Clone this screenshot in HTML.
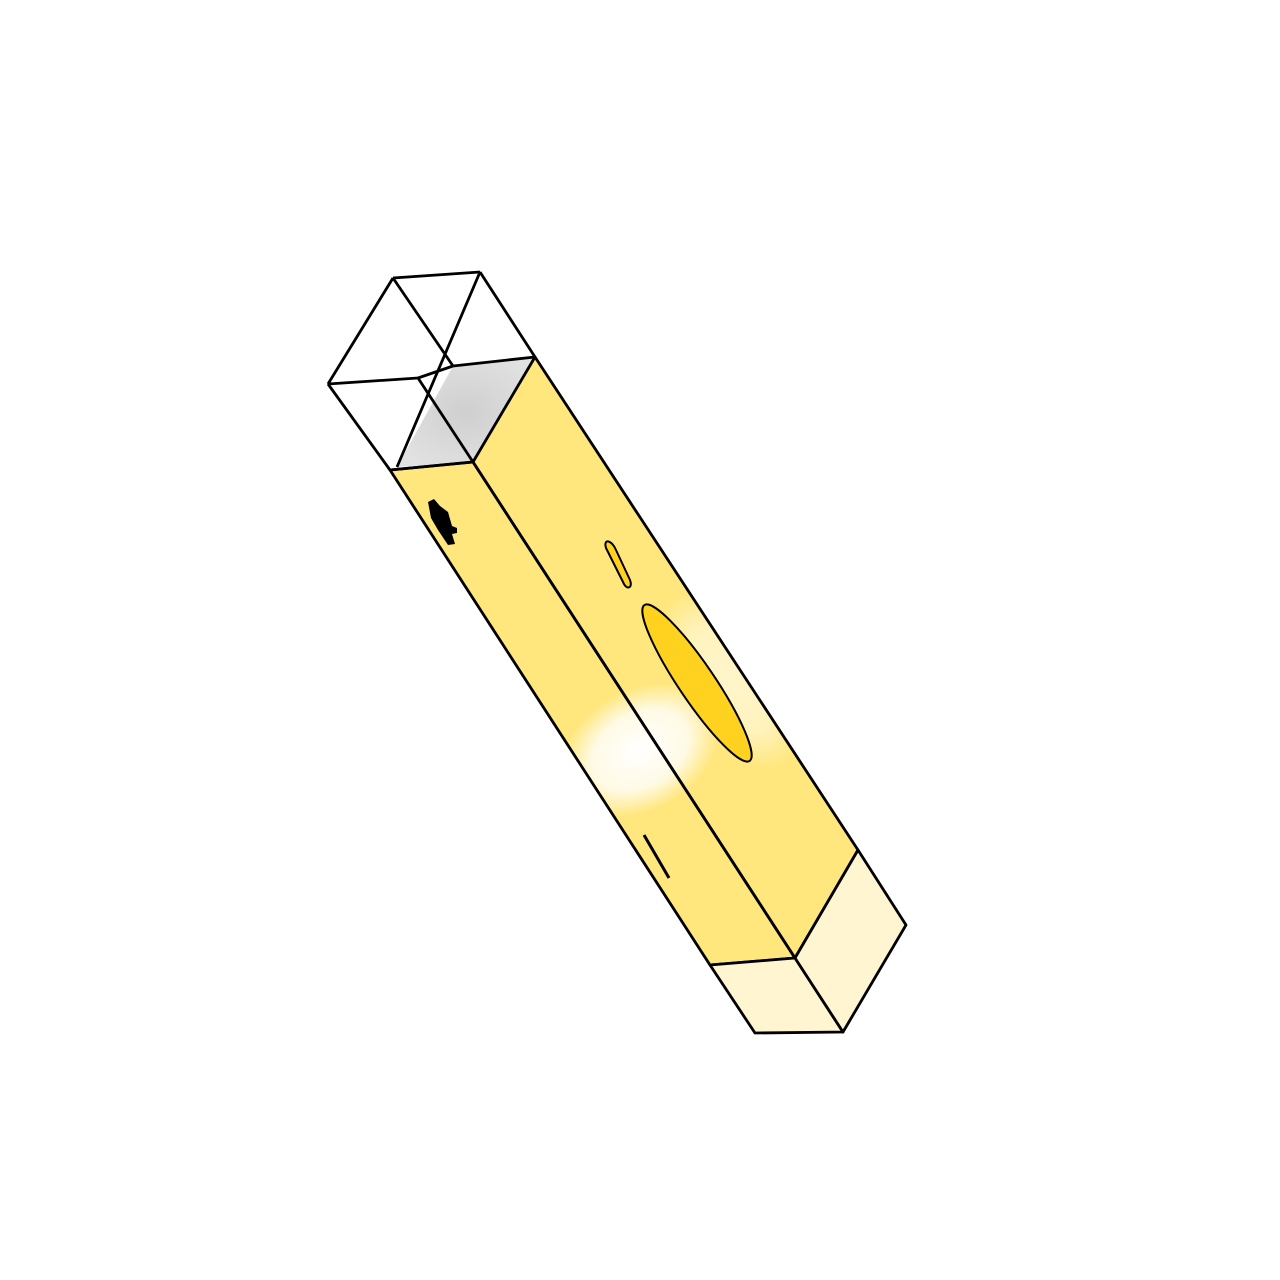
<!DOCTYPE html>
<html><head><meta charset="utf-8"><style>html,body{margin:0;padding:0;background:#fff}svg{display:block}</style></head>
<body>
<svg width="1280" height="1280" viewBox="0 0 1280 1280" xmlns="http://www.w3.org/2000/svg">
<defs>
<radialGradient id="hl" cx="0.5" cy="0.5" r="0.5">
<stop offset="0" stop-color="#fff" stop-opacity="1"/>
<stop offset="0.6" stop-color="#fff" stop-opacity="0.8"/>
<stop offset="1" stop-color="#fff" stop-opacity="0"/>
</radialGradient>
<radialGradient id="gr" cx="0.5" cy="0.5" r="0.6">
<stop offset="0" stop-color="#cfcfcf"/>
<stop offset="1" stop-color="#e2e2e2"/>
</radialGradient>
<clipPath id="bodyclip"><polygon points="390,470 473,462 535,357 858,850 795,958 710,965"/></clipPath>
</defs>
<g stroke="#000" stroke-width="2.8" stroke-linejoin="round" fill="none">
<polygon points="453,366 535,357 473,462 397,467" fill="url(#gr)" stroke="none"/>
<polygon points="390,470 473,462 795,958 710,965" fill="#ffe77e" stroke="none"/>
<polygon points="473,462 535,357 858,850 795,958" fill="#ffe77e" stroke="none"/>
<g clip-path="url(#bodyclip)">
<ellipse cx="640" cy="750" rx="85" ry="60" fill="url(#hl)" stroke="none" transform="rotate(-30 640 750)"/>
<ellipse cx="730" cy="680" rx="50" ry="100" fill="url(#hl)" stroke="none" opacity="0.6" transform="rotate(-34 730 680)"/>
</g>
<polygon points="390,470 473,462 795,958 710,965"/>
<polygon points="473,462 535,357 858,850 795,958"/>
<polygon points="710,965 795,958 843,1032 755,1033" fill="#fff5d0"/>
<polygon points="795,958 858,850 906,925 843,1032" fill="#fff5d0"/>
<g>
<line x1="393" y1="278" x2="480" y2="272"/>
<line x1="480" y1="272" x2="535" y2="357"/>
<line x1="393" y1="278" x2="328" y2="384"/>
<line x1="328" y1="384" x2="418" y2="378"/>
<line x1="418" y1="378" x2="453" y2="366"/>
<line x1="453" y1="366" x2="535" y2="357"/>
<line x1="393" y1="278" x2="453" y2="366"/>
<line x1="480" y1="272" x2="397" y2="467"/>
<line x1="418" y1="378" x2="473" y2="462"/>
<line x1="328" y1="384" x2="390" y2="470"/>
<line x1="390" y1="470" x2="473" y2="462"/>
</g>
<ellipse cx="697" cy="683" rx="18" ry="94" fill="#ffd21f" transform="rotate(-34 697 683)" stroke-width="2"/>
<path d="M606,548 C603,538 612,540 616,550 L630,580 C633,588 627,590 624,584 Z" fill="#ffd21f" stroke-width="2"/>
<line x1="644" y1="835" x2="669" y2="878" stroke-width="3"/>
<path d="M428,502 L434,499 L440,506 L448,512 L452,526 L457,528 L457,533 L452,534 L455,544 L448,545 L438,530 L431,518 Z" fill="#000" stroke="none"/>
</g>
</svg>
</body></html>
